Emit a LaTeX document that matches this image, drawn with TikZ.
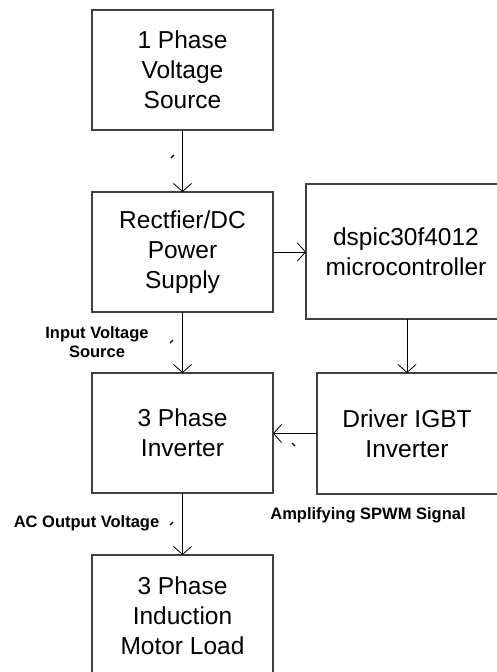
\documentclass[tikz,border=0pt]{standalone}
\usepackage{fontspec}
\setmainfont{Liberation Sans}
\usetikzlibrary{arrows.meta}
\begin{document}
\begin{tikzpicture}[x=1pt,y=-1pt,
  blk/.style={draw=black!75,line width=1.1pt,rectangle,inner sep=0pt,outer sep=0pt,
    align=center,font=\fontsize{24.5}{30}\selectfont},
  conn/.style={draw=black,line width=0.8pt,-{Straight Barb[length=8pt,width=18pt,line width=0.8pt]}},
  lbl/.style={font=\fontsize{16.5}{19}\selectfont\bfseries,align=center,inner sep=0pt},
  tick/.style={line width=1.4pt,black}]
\useasboundingbox (0,0) rectangle (497,672);
\node[blk,minimum width=181pt,minimum height=120pt] (src) at (182.5,70) {1 Phase\\Voltage\\Source};
\node[blk,minimum width=181pt,minimum height=120pt] (rect) at (182.5,252) {Rectfier/DC\\Power\\Supply};
\node[blk,minimum width=200pt,minimum height=135pt] (dsp) at (406,251.5) {dspic30f4012\\microcontroller};
\node[blk,minimum width=181pt,minimum height=120pt] (inv) at (182.5,433) {3 Phase\\Inverter};
\node[blk,minimum width=186pt,minimum height=121pt] (drv) at (410,433.5) {\hspace*{-6pt}Driver IGBT\\\hspace*{-6pt}Inverter};
\node[blk,minimum width=181pt,minimum height=122pt] (mot) at (182.5,616) {3 Phase\\Induction\\Motor Load};
\draw[conn] (src.south) -- (rect.north);
\draw[conn] (rect.east) -- (rect.east -| dsp.west);
\draw[conn] (dsp.south -| 407,0) -- (drv.north -| 407,0);
\draw[conn] (drv.west) -- (drv.west -| inv.east);
\draw[conn] (rect.south) -- (inv.north);
\draw[conn] (inv.south) -- (mot.north);
\node[lbl] (lin) at (97,342) {Input Voltage\\Source};
\node[lbl] (lac) at (86.5,523) {AC Output Voltage};
\node[lbl] (lamp) at (368,515) {Amplifying SPWM Signal};
\coordinate (t1a) at (171,158); \coordinate (t1b) at (174,155);
\coordinate (t2a) at (170,343); \coordinate (t2b) at (173,340);
\coordinate (t3a) at (170,525); \coordinate (t3b) at (173,522);
\coordinate (t4a) at (292,443); \coordinate (t4b) at (295,446);
\draw[tick] (t1a) -- (t1b);
\draw[tick] (t2a) -- (t2b);
\draw[tick] (t3a) -- (t3b);
\draw[tick] (t4a) -- (t4b);
\end{tikzpicture}
\end{document}
